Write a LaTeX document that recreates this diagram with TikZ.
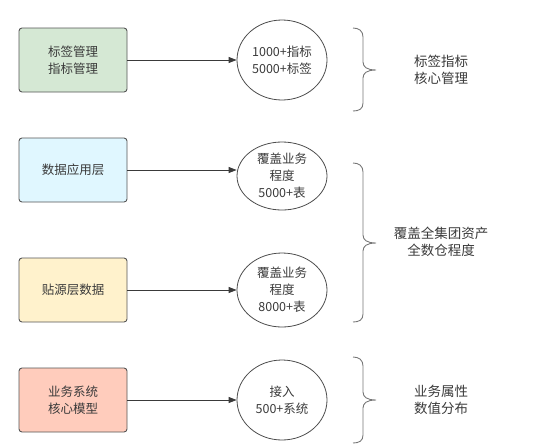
\documentclass[tikz,border=0pt]{standalone}
\usepackage{fontspec}
\setmainfont{Noto Sans CJK SC}
\usetikzlibrary{arrows.meta,shapes.geometric}
\definecolor{bordc}{HTML}{555555}
\definecolor{txtc}{HTML}{3A3A3A}
\definecolor{gfill}{HTML}{D5E8D4}
\definecolor{bfill}{HTML}{E0F7FF}
\definecolor{yfill}{HTML}{FFF2CC}
\definecolor{rfill}{HTML}{FFCCBC}
\tikzset{
  box/.style={draw=bordc, line width=0.9pt, rounded corners=3pt, minimum width=108pt, minimum height=64pt, inner sep=0pt, align=center, text=txtc, font=\fontsize{12.5pt}{17pt}\selectfont},
  oval/.style={draw=bordc!90!black, line width=0.8pt, ellipse, minimum width=90pt, inner sep=0pt, align=center, text=txtc, font=\fontsize{12.5pt}{17pt}\selectfont},
  note/.style={align=center, text=txtc, font=\fontsize{13.5pt}{17pt}\selectfont},
  link/.style={draw=txtc, line width=0.9pt, -{Triangle[length=8pt,width=6pt]}},
  bracec/.style={draw=bordc!80, line width=0.9pt}
}
\begin{document}
\begin{tikzpicture}[x=1pt,y=-1pt]
\useasboundingbox (0,0) rectangle (556,445);
% boxes
\node[box, fill=gfill] (b1) at (73,60) {标签管理\\指标管理};
\node[box, fill=bfill] (b2) at (73,170) {数据应用层};
\node[box, fill=yfill] (b3) at (73,290) {贴源层数据};
\node[box, fill=rfill] (b4) at (73,400) {业务系统\\核心模型};
% ellipses
\node[oval, minimum height=80pt] (e1) at (282,60) {1000+指标\\5000+标签};
\node[oval, minimum height=68pt] (e2) at (282,176) {覆盖业务\\程度\\5000+表};
\node[oval, minimum height=74pt] (e3) at (282,290) {覆盖业务\\程度\\8000+表};
\node[oval, minimum height=80pt] (e4) at (282,400) {接入\\500+系统};
% arrows
\draw[link] (b1.east) -- (e1.west);
\draw[link] (b2.east) -- (b2.east -| e2.west);
\draw[link] (b3.east) -- (e3.west);
\draw[link] (b4.east) -- (e4.west);
% braces
\draw[bracec] (353,28) .. controls (359,28) and (363,31) .. (363,37) -- (363,62) .. controls (363,67) and (367,70) .. (376,70) .. controls (367,70) and (363,73) .. (363,78) -- (363,103) .. controls (363,109) and (359,111) .. (353,111);
\draw[bracec] (353,163) .. controls (359,163) and (363,166) .. (363,172) -- (363,235) .. controls (363,240) and (367,243) .. (376,243) .. controls (367,243) and (363,246) .. (363,251) -- (363,314) .. controls (363,320) and (359,322) .. (353,322);
\draw[bracec] (353,357) .. controls (359,357) and (363,360) .. (363,366) -- (363,392) .. controls (363,397) and (367,400) .. (376,400) .. controls (367,400) and (363,403) .. (363,408) -- (363,435) .. controls (363,441) and (359,443) .. (353,443);
% notes
\node[note] (n1) at (441,70) {标签指标\\核心管理};
\node[note] (n2) at (441,242) {覆盖全集团资产\\全数仓程度};
\node[note] (n3) at (441,400) {业务属性\\数值分布};
\end{tikzpicture}
\end{document}
